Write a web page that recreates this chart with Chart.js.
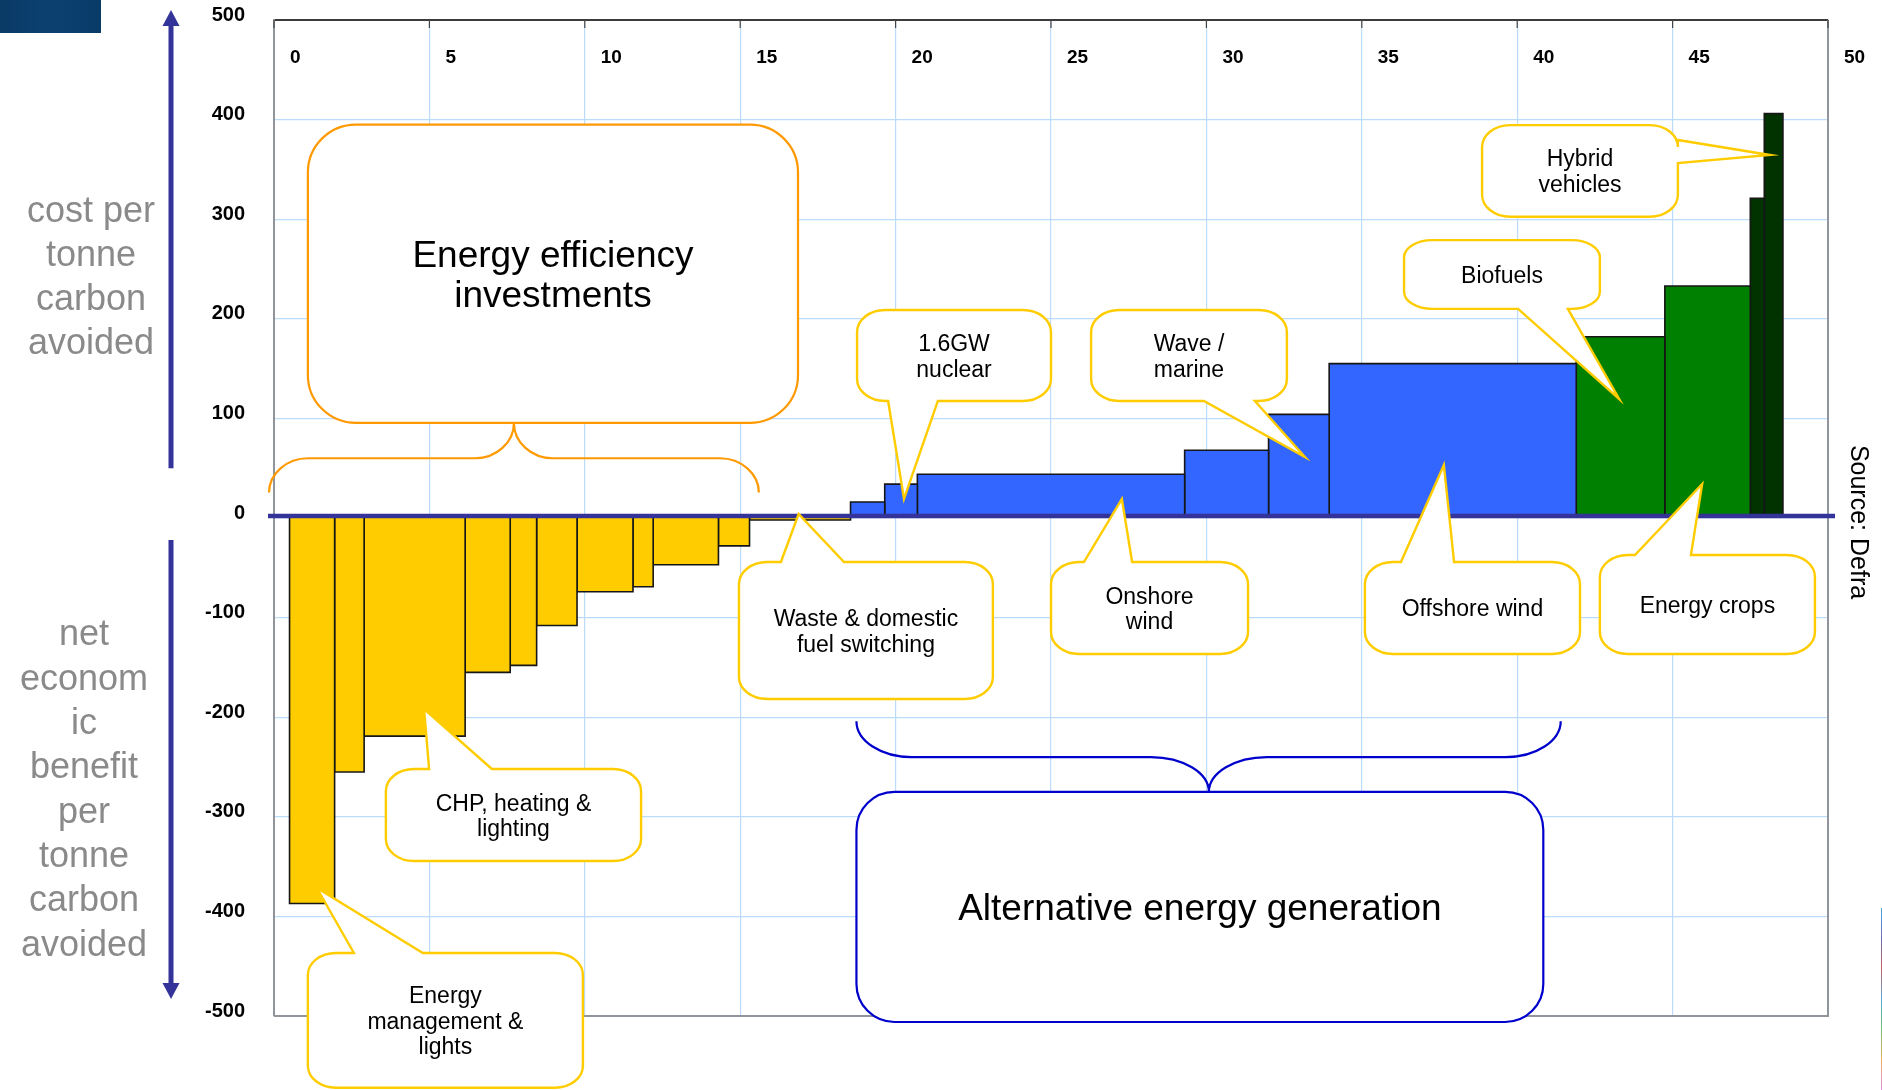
<!DOCTYPE html>
<html>
<head>
<meta charset="utf-8">
<title>Carbon abatement cost curve</title>
<script src="https://cdn.jsdelivr.net/npm/chart.js@4.4.1/dist/chart.umd.min.js"></script>
<style>
  html, body { margin: 0; padding: 0; background: #ffffff; }
  #wrap { width: 1882px; height: 1090px; position: relative; }
</style>
</head>
<body>
<div id="wrap"><canvas id="mac"></canvas></div>
<script>
// ---- Data -------------------------------------------------------------
// Measures in merit order: width = carbon abated (MtC), height = cost per tonne (£/tC)
const firstMeasureStart = 0.5;
const abatement = [1.45, 0.95, 3.25, 1.45, 0.85, 1.3, 1.8, 0.65, 2.1, 1.0,
                   3.25,
                   1.1, 1.05, 8.6, 2.7, 1.95, 7.95,
                   2.85, 2.75,
                   0.45, 0.6];
const costPerTonne = [-387, -255, -219, -155, -148, -108, -74, -69, -47, -28,
                      -2,
                      16, 34, 44, 68, 104, 155,
                      182, 233,
                      321, 406];
const sector = ['efficiency', 'efficiency', 'efficiency', 'efficiency', 'efficiency',
                'efficiency', 'efficiency', 'efficiency', 'efficiency', 'efficiency',
                'fuel',
                'generation', 'generation', 'generation', 'generation', 'generation', 'generation',
                'biomass', 'biomass',
                'transport', 'transport'];
const xTickValues = [0, 5, 10, 15, 20, 25, 30, 35, 40, 45, 50];
const yTickValues = [-500, -400, -300, -200, -100, 0, 100, 200, 300, 400, 500];
const costAxisTitle = ['cost per', 'tonne', 'carbon', 'avoided'];
const benefitAxisTitle = ['net', 'econom', 'ic', 'benefit', 'per', 'tonne', 'carbon', 'avoided'];
const sourceNote = 'Source: Defra';

// ---- Styling ----------------------------------------------------------
const FONT = '"Liberation Sans", Arial, Helvetica, sans-serif';
const sectorFill = {
  efficiency: '#FFCC00', fuel: '#FFCC00', generation: '#3366FF',
  biomass: '#008000', transport: '#003300'
};
const GRID = '#BBDBFB';
const NAVY = '#333399';
const CALLOUT = '#FFCC00';

// Speech-bubble labels, placed in axis units (x: MtC, y: £/tC)
const callouts = [
  { lines: ['Hybrid', 'vehicles'], box: [38.87, 45.17, 394.5, 302.5], tail: { edge: 'right', base: [379.5, 356.4], tip: [48.13, 364.5] } },
  { lines: ['Biofuels'], box: [36.36, 42.66, 279, 210], tail: { edge: 'bottom', base: [40.03, 41.63], tip: [43.28, 119.5] } },
  { lines: ['1.6GW', 'nuclear'], box: [18.76, 25.0, 208.8, 117.5], tail: { edge: 'bottom', base: [19.76, 21.36], tip: [20.27, 19.1] } },
  { lines: ['Wave /', 'marine'], box: [26.29, 32.59, 208.8, 117.5], tail: { edge: 'bottom', base: [29.92, 31.56], tip: [33.17, 61.2] } },
  { lines: ['Waste & domestic', 'fuel switching'], box: [14.96, 23.13, -44.2, -181.7], tail: { edge: 'top', base: [16.31, 18.34], tip: [16.88, 4.0] } },
  { lines: ['Onshore', 'wind'], box: [25.0, 31.34, -44.2, -136.5], tail: { edge: 'top', base: [26.06, 27.61], tip: [27.28, 19.1] } },
  { lines: ['Offshore wind'], box: [35.10, 42.02, -44.2, -136.5], tail: { edge: 'top', base: [36.26, 37.97], tip: [37.64, 53.2] } },
  { lines: ['Energy crops'], box: [42.66, 49.58, -37.1, -136.5], tail: { edge: 'top', base: [43.79, 45.59], tip: [45.95, 34.1] } },
  { lines: ['CHP, heating &', 'lighting'], box: [3.60, 11.81, -252, -344.4], tail: { edge: 'top', base: [4.99, 7.01], tip: [4.83, -191.8] } },
  { lines: ['Energy', 'management &', 'lights'], box: [1.09, 9.94, -436.7, -572], tail: { edge: 'top', base: [2.57, 4.79], tip: [1.38, -371.5] } }
];

const groupBoxes = [
  { lines: ['Energy efficiency', 'investments'], box: [1.09, 16.86, 395, 95.5], color: '#FF9900', radius: 48,
    brace: { x: [-0.16, 7.72, 15.6], yEnd: 25.5, yMid: 60, yPeak: 95.5, r: [39, 39] } },
  { lines: ['Alternative energy generation'], box: [18.74, 40.84, -275, -506], color: '#0000CC', radius: 38,
    brace: { x: [18.74, 30.08, 41.4], yEnd: -204, yMid: -240, yPeak: -275, r: [55, 58] } }
];

// ---- Bars as closed outlines filled to the zero line -------------------
let edge = firstMeasureStart;
const datasets = abatement.map((w, i) => {
  const x0 = edge, x1 = edge + w;
  edge = x1;
  const c = costPerTonne[i];
  return {
    label: sector[i],
    data: [{ x: x0, y: 0 }, { x: x0, y: c }, { x: x1, y: c }, { x: x1, y: 0 }],
    showLine: true,
    fill: 'origin',
    backgroundColor: sectorFill[sector[i]],
    borderColor: '#161616',
    borderWidth: 1.6,
    pointRadius: 0,
    pointHoverRadius: 0,
    tension: 0
  };
});

// ---- Drawing helpers ---------------------------------------------------
function bubblePath(ctx, x0, y0, x1, y1, rx, ry, tail) {
  ctx.beginPath();
  ctx.moveTo(x0 + rx, y0);
  if (tail && tail.edge === 'top') {
    const b = tail.base.slice().sort((a, c) => a - c);
    ctx.lineTo(b[0], y0); ctx.lineTo(tail.tip[0], tail.tip[1]); ctx.lineTo(b[1], y0);
  }
  ctx.lineTo(x1 - rx, y0);
  ctx.ellipse(x1 - rx, y0 + ry, rx, ry, 0, -Math.PI / 2, 0);
  if (tail && tail.edge === 'right') {
    const b = tail.base.slice().sort((a, c) => a - c);
    ctx.lineTo(x1, b[0]); ctx.lineTo(tail.tip[0], tail.tip[1]); ctx.lineTo(x1, b[1]);
  }
  ctx.lineTo(x1, y1 - ry);
  ctx.ellipse(x1 - rx, y1 - ry, rx, ry, 0, 0, Math.PI / 2);
  if (tail && tail.edge === 'bottom') {
    const b = tail.base.slice().sort((a, c) => c - a);
    ctx.lineTo(b[0], y1); ctx.lineTo(tail.tip[0], tail.tip[1]); ctx.lineTo(b[1], y1);
  }
  ctx.lineTo(x0 + rx, y1);
  ctx.ellipse(x0 + rx, y1 - ry, rx, ry, 0, Math.PI / 2, Math.PI);
  ctx.lineTo(x0, y0 + ry);
  ctx.ellipse(x0 + rx, y0 + ry, rx, ry, 0, Math.PI, Math.PI * 1.5);
  ctx.closePath();
}

function centredLines(ctx, lines, cx, cy, size, spacing) {
  ctx.font = size + 'px ' + FONT;
  ctx.fillStyle = '#000';
  ctx.textAlign = 'center';
  ctx.textBaseline = 'middle';
  const top = cy - (lines.length - 1) * spacing / 2;
  lines.forEach((t, i) => ctx.fillText(t, cx, top + i * spacing));
}

// Curly brace: ends at yEnd, flat run at yMid, point at yPeak
function drawBrace(ctx, xs, br, color) {
  const [xL, xC, xR] = xs.x;
  const { yEnd, yMid, yPeak } = xs;
  const [re, rc] = br;
  const dy1 = yMid - yEnd, dy2 = yPeak - yMid;
  ctx.beginPath();
  ctx.moveTo(xL, yEnd);
  ctx.bezierCurveTo(xL, yEnd + dy1 * 0.55, xL + re * 0.45, yMid, xL + re, yMid);
  ctx.lineTo(xC - rc, yMid);
  ctx.bezierCurveTo(xC - rc * 0.45, yMid, xC, yMid + dy2 * 0.45, xC, yPeak);
  ctx.bezierCurveTo(xC, yMid + dy2 * 0.45, xC + rc * 0.45, yMid, xC + rc, yMid);
  ctx.lineTo(xR - re, yMid);
  ctx.bezierCurveTo(xR - re * 0.45, yMid, xR, yEnd + dy1 * 0.55, xR, yEnd);
  ctx.strokeStyle = color;
  ctx.lineWidth = 2.2;
  ctx.stroke();
}

// Plot frame on the right/bottom plus inner tick marks on the top axis
const framePlugin = {
  id: 'frame',
  beforeDatasetsDraw(chart) {
    const { ctx, chartArea: a, scales } = chart;
    ctx.save();
    ctx.strokeStyle = '#8f959b';
    ctx.lineWidth = 2;
    ctx.beginPath();
    ctx.moveTo(a.left, a.bottom); ctx.lineTo(a.right, a.bottom); ctx.lineTo(a.right, a.top);
    ctx.stroke();
    ctx.strokeStyle = '#444';
    ctx.lineWidth = 1.2;
    scales.x.ticks.forEach(t => {
      const px = scales.x.getPixelForValue(t.value);
      ctx.beginPath(); ctx.moveTo(px, a.top); ctx.lineTo(px, a.top + 8); ctx.stroke();
    });
    ctx.restore();
  },
  afterDatasetsDraw(chart) {
    const { ctx, chartArea: a, scales } = chart;
    const y0 = scales.y.getPixelForValue(0) - 2;
    ctx.save();
    ctx.strokeStyle = NAVY;
    ctx.lineWidth = 4.5;
    ctx.beginPath(); ctx.moveTo(a.left - 6, y0); ctx.lineTo(a.right + 7, y0); ctx.stroke();
    ctx.restore();
  }
};

const annotationPlugin = {
  id: 'annotations',
  afterDraw(chart) {
    const { ctx, chartArea: a, scales } = chart;
    const X = v => scales.x.getPixelForValue(v);
    const Y = v => scales.y.getPixelForValue(v);
    ctx.save();

    // group boxes with braces
    groupBoxes.forEach(g => {
      const b = g.brace;
      drawBrace(ctx, { x: b.x.map(X), yEnd: Y(b.yEnd), yMid: Y(b.yMid), yPeak: Y(b.yPeak) }, b.r, g.color);
      const x0 = X(g.box[0]), x1 = X(g.box[1]), y0 = Y(g.box[2]), y1 = Y(g.box[3]);
      bubblePath(ctx, x0, y0, x1, y1, g.radius, g.radius, null);
      ctx.fillStyle = '#fff'; ctx.fill();
      ctx.strokeStyle = g.color; ctx.lineWidth = 2.2; ctx.stroke();
      centredLines(ctx, g.lines, (x0 + x1) / 2, (y0 + y1) / 2 + 3, 37, 40);
    });

    // measure callouts
    callouts.forEach(c => {
      const x0 = X(c.box[0]), x1 = X(c.box[1]), y0 = Y(c.box[2]), y1 = Y(c.box[3]);
      const horiz = c.tail.edge === 'top' || c.tail.edge === 'bottom';
      const tail = {
        edge: c.tail.edge,
        base: c.tail.base.map(horiz ? X : Y),
        tip: [X(c.tail.tip[0]), Y(c.tail.tip[1])]
      };
      const ry = Math.min(22, (y1 - y0) * 0.25);
      bubblePath(ctx, x0, y0, x1, y1, 28, ry, tail);
      ctx.fillStyle = '#fff'; ctx.fill();
      ctx.strokeStyle = CALLOUT; ctx.lineWidth = 2.4; ctx.lineJoin = 'miter'; ctx.stroke();
      centredLines(ctx, c.lines, (x0 + x1) / 2, (y0 + y1) / 2 + 2, 23, 25.5);
    });

    // left-hand axis arrows
    const ax = a.left - 103;
    ctx.strokeStyle = NAVY; ctx.fillStyle = NAVY; ctx.lineWidth = 5;
    const upTip = Y(510), upEnd = Y(50);
    const dnTip = Y(-483), dnEnd = Y(-22);
    ctx.beginPath(); ctx.moveTo(ax, upEnd); ctx.lineTo(ax, upTip + 12); ctx.stroke();
    ctx.beginPath(); ctx.moveTo(ax, upTip); ctx.lineTo(ax - 8.5, upTip + 16); ctx.lineTo(ax + 8.5, upTip + 16); ctx.closePath(); ctx.fill();
    ctx.beginPath(); ctx.moveTo(ax, dnEnd); ctx.lineTo(ax, dnTip - 12); ctx.stroke();
    ctx.beginPath(); ctx.moveTo(ax, dnTip); ctx.lineTo(ax - 8.5, dnTip - 16); ctx.lineTo(ax + 8.5, dnTip - 16); ctx.closePath(); ctx.fill();

    // left-hand axis titles
    ctx.fillStyle = '#8a8a8a';
    ctx.font = '36px ' + FONT;
    ctx.textAlign = 'center';
    ctx.textBaseline = 'middle';
    costAxisTitle.forEach((t, i) => ctx.fillText(t, ax - 80, Y(311) + 4 + i * 44));
    benefitAxisTitle.forEach((t, i) => ctx.fillText(t, ax - 87, Y(-114) + 4 + i * 44.3));

    // source note, rotated along the right edge
    ctx.save();
    ctx.translate(a.right + 30, Y(0) + 4);
    ctx.rotate(Math.PI / 2);
    ctx.fillStyle = '#000';
    ctx.font = '25px ' + FONT;
    ctx.textAlign = 'center';
    ctx.textBaseline = 'middle';
    ctx.fillText(sourceNote, 0, 0);
    ctx.restore();

    // corner decorations of the slide
    const g = ctx.createLinearGradient(0, 0, 101, 0);
    g.addColorStop(0, '#0a3a66'); g.addColorStop(0.5, '#0c416f'); g.addColorStop(1, '#093b68');
    ctx.fillStyle = g;
    ctx.fillRect(0, 0, 101, 33);
    const s = ctx.createLinearGradient(0, 908, 0, 1090);
    ['#4aa8e0', '#6a6ab0', '#c06060', '#5aa8d8', '#70c070', '#f0b060', '#e090e0'].forEach((col, i, arr) => s.addColorStop(i / (arr.length - 1), col));
    ctx.fillStyle = s;
    ctx.fillRect(1881, 908, 1, 182);

    ctx.restore();
  }
};

// ---- Chart -------------------------------------------------------------
new Chart(document.getElementById('mac'), {
  type: 'scatter',
  data: { datasets },
  plugins: [framePlugin, annotationPlugin],
  options: {
    responsive: true,
    maintainAspectRatio: false,
    animation: false,
    events: [],
    layout: { padding: { left: 174, right: 54, top: 20, bottom: 74 } },
    plugins: { legend: { display: false }, tooltip: { enabled: false } },
    scales: {
      x: {
        type: 'linear',
        position: 'top',
        min: 0, max: 50,
        afterBuildTicks: s => { s.ticks = xTickValues.map(v => ({ value: v })); },
        afterFit: s => { s.height = 0; s.paddingLeft = 0; s.paddingRight = 0; },
        ticks: {
          mirror: true, align: 'start', labelOffset: 16, padding: 26,
          maxRotation: 0, autoSkip: false,
          color: '#000', font: { family: FONT, size: 19, weight: 'bold' }
        },
        grid: { color: GRID, lineWidth: 1.2, drawTicks: false },
        border: { display: true, color: '#3c3c3c', width: 2 }
      },
      y: {
        type: 'linear',
        min: -500, max: 500,
        afterBuildTicks: s => { s.ticks = yTickValues.map(v => ({ value: v })); },
        afterFit: s => { s.width = 100; s.paddingTop = 0; s.paddingBottom = 0; },
        ticks: {
          padding: 29, labelOffset: -5, autoSkip: false,
          color: '#000', font: { family: FONT, size: 20, weight: 'bold' }
        },
        grid: { color: GRID, lineWidth: 1.2, drawTicks: false },
        border: { display: true, color: '#8f959b', width: 2 }
      }
    }
  }
});
</script>
</body>
</html>
